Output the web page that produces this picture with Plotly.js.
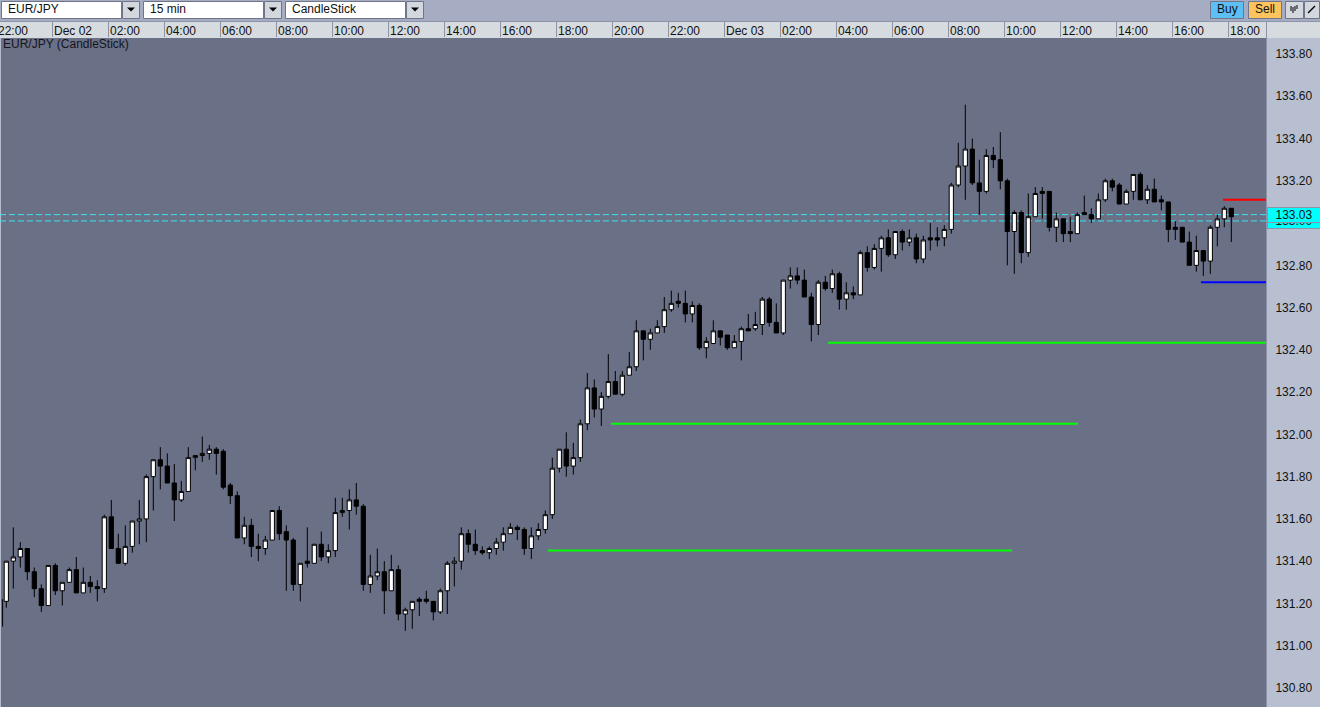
<!DOCTYPE html>
<html>
<head>
<meta charset="utf-8">
<script src="https://cdn.plot.ly/plotly-3.0.1.min.js"></script>
<style>html,body{margin:0;padding:0;background:#a6acc2;overflow:hidden}#chart{width:1320px;height:707px}</style>
</head>
<body>
<div id="chart"></div>
<script>
var opens = [131.21,131.40,131.42,131.46,131.35,131.27,131.19,131.38,131.26,131.30,131.36,131.25,131.30,131.28,131.27,131.61,131.46,131.39,131.47,131.59,131.60,131.80,131.88,131.85,131.77,131.69,131.73,131.89,131.90,131.91,131.93,
131.92,131.76,131.71,131.51,131.57,131.47,131.46,131.50,131.64,131.54,131.50,131.29,131.40,131.39,131.48,131.42,131.45,131.63,131.64,131.69,131.66,131.29,131.33,131.35,131.26,131.36,131.15,131.17,131.22,131.22,131.21,
131.16,131.26,131.39,131.40,131.53,131.48,131.45,131.44,131.46,131.49,131.53,131.56,131.55,131.46,131.52,131.55,131.62,131.84,131.93,131.85,131.89,132.05,132.22,132.12,
132.18,132.25,132.19,132.28,132.32,132.49,132.45,132.48,132.51,132.59,132.63,132.62,132.57,132.61,132.41,132.43,132.49,132.47,132.41,132.44,132.50,132.50,132.52,132.64,132.53,132.48,132.73,132.75,
132.73,132.65,132.52,132.72,132.69,132.76,132.64,132.67,132.66,132.86,132.79,132.88,132.93,132.85,132.96,132.91,132.93,132.83,132.93,132.93,132.93,
132.97,133.18,133.27,133.35,133.19,133.15,133.32,133.30,133.20,132.96,133.05,132.86,133.03,133.15,133.15,132.98,133.02,132.96,132.95,133.05,133.04,133.02,
133.11,133.20,133.18,133.09,133.15,133.23,133.11,133.16,133.11,133.10,132.98,132.98,132.91,132.80,132.87,132.82,132.98,133.02,133.07];
var highs = [131.40,131.56,131.49,131.46,131.37,131.29,131.38,131.39,131.30,131.37,131.42,131.37,131.33,131.31,131.62,131.69,131.53,131.57,131.59,131.69,131.81,131.88,131.94,131.91,131.86,131.78,131.94,131.90,131.99,131.95,131.94,
131.93,131.77,131.73,131.61,131.60,131.53,131.52,131.64,131.66,131.57,131.51,131.39,131.56,131.48,131.54,131.48,131.70,131.70,131.74,131.77,131.67,131.43,131.46,131.40,131.43,131.38,131.18,131.21,131.23,131.26,131.21,
131.27,131.40,131.42,131.56,131.55,131.55,131.47,131.47,131.51,131.56,131.58,131.57,131.56,131.56,131.58,131.64,131.89,131.93,132.01,131.96,132.07,132.29,132.26,132.20,
132.38,132.30,132.30,132.39,132.54,132.49,132.50,132.54,132.65,132.68,132.67,132.68,132.63,132.62,132.46,132.54,132.49,132.47,132.47,132.51,132.57,132.58,132.65,132.65,132.62,132.73,132.79,132.79,
132.78,132.67,132.73,132.75,132.78,132.77,132.72,132.70,132.87,132.89,132.90,132.94,132.97,132.96,132.97,132.97,132.95,132.94,133.00,132.98,132.99,
133.19,133.38,133.56,133.40,133.30,133.35,133.36,133.43,133.21,133.06,133.06,133.14,133.17,133.17,133.15,133.05,133.02,133.03,133.05,133.13,133.07,133.14,
133.21,133.21,133.19,133.16,133.23,133.24,133.18,133.21,133.13,133.10,133.01,132.98,132.96,132.94,132.87,132.99,133.04,133.08,133.07];
var lows = [131.18,131.27,131.37,131.31,131.23,131.16,131.19,131.24,131.19,131.30,131.25,131.25,131.25,131.21,131.25,131.46,131.39,131.38,131.44,131.48,131.49,131.64,131.74,131.77,131.59,131.68,131.73,131.83,131.87,131.88,131.81,
131.74,131.67,131.51,131.48,131.42,131.40,131.43,131.50,131.50,131.26,131.26,131.21,131.37,131.39,131.40,131.39,131.42,131.61,131.55,131.62,131.26,131.25,131.31,131.15,131.26,131.12,131.07,131.08,131.14,131.20,131.12,
131.15,131.15,131.28,131.36,131.44,131.43,131.43,131.41,131.43,131.45,131.53,131.50,131.43,131.41,131.50,131.53,131.60,131.82,131.80,131.81,131.87,132.02,132.08,132.04,
132.17,132.19,132.18,132.28,132.30,132.35,132.40,132.48,132.48,132.58,132.60,132.53,132.53,132.40,132.36,132.43,132.42,132.40,132.41,132.35,132.49,132.49,132.47,132.51,132.48,132.47,132.69,132.71,
132.65,132.44,132.47,132.68,132.67,132.59,132.59,132.64,132.66,132.77,132.78,132.77,132.84,132.83,132.87,132.89,132.81,132.81,132.87,132.89,132.89,
132.95,133.17,133.11,133.18,133.04,133.14,133.26,133.16,132.80,132.76,132.81,132.84,133.03,133.02,132.96,132.91,132.91,132.91,132.95,133.04,133.00,133.02,
133.10,133.15,133.09,133.09,133.11,133.11,133.09,133.10,133.06,132.91,132.92,132.91,132.80,132.77,132.75,132.76,132.89,132.98,132.91];
var closes = [131.40,131.42,131.46,131.35,131.27,131.19,131.38,131.26,131.30,131.36,131.25,131.30,131.28,131.27,131.61,131.46,131.39,131.47,131.59,131.60,131.80,131.88,131.85,131.77,131.69,131.73,131.89,131.90,131.91,131.93,131.91,
131.75,131.71,131.51,131.57,131.47,131.46,131.50,131.64,131.53,131.50,131.29,131.39,131.39,131.48,131.42,131.45,131.63,131.64,131.69,131.66,131.29,131.33,131.35,131.26,131.36,131.15,131.17,131.21,131.21,131.21,131.16,
131.26,131.39,131.40,131.53,131.48,131.45,131.44,131.46,131.49,131.53,131.56,131.55,131.46,131.52,131.55,131.62,131.84,131.93,131.85,131.89,132.05,132.22,132.12,132.18,
132.25,132.19,132.28,132.32,132.49,132.45,132.48,132.51,132.59,132.62,132.62,132.57,132.61,132.41,132.44,132.49,132.46,132.41,132.44,132.50,132.49,132.52,132.64,132.53,132.48,132.73,132.75,132.73,
132.65,132.52,132.72,132.69,132.76,132.64,132.67,132.66,132.86,132.79,132.88,132.93,132.85,132.96,132.91,132.93,132.83,132.92,132.92,132.92,132.97,
133.18,133.27,133.35,133.19,133.15,133.32,133.30,133.20,132.96,133.05,132.86,133.03,133.14,133.14,132.98,133.02,132.95,132.95,133.04,133.04,133.02,133.11,
133.20,133.17,133.09,133.15,133.23,133.11,133.16,133.10,133.10,132.97,132.97,132.91,132.80,132.87,132.82,132.98,133.02,133.07,133.03];

var clippedBarHigh = 131.22, clippedBarLow = 131.09;
var priceTicks = [130.80,131.00,131.20,131.40,131.60,131.80,132.00,132.20,132.40,132.60,132.80,133.00,133.20,133.40,133.60,133.80];
var timeLabels = ['22:00','Dec 02','02:00','04:00','06:00','08:00','10:00','12:00','14:00','16:00','18:00','20:00','22:00','Dec 03','02:00','04:00','06:00','08:00','10:00','12:00','14:00','16:00','18:00'];
var supportLevels = [131.45,132.05,132.434];
var supportStart = [77.39,86.39,117.4];
var supportEnd = [143.67,153.1,179.96];
var redLevel = 133.11, redStart = 173.8;
var blueLevel = 132.72, blueStart = 170.67;
var bidAsk = [133.04,133.01];
var tagLabels = ['133.03','133.00'];
var instrument = 'EUR/JPY', timeframe = '15 min', chartType = 'CandleStick';

var W = 1320, H = 707, plotR = 1266, plotT = 38;
var BAR0 = 6.3, BARW = 7;
function fx(px){return px/plotR;}
function fy(py){return 1-(py-plotT)/(H-plotT);}
function pxToBar(px){return (px-BAR0)/BARW;}
var xIdx = closes.map(function(_,i){return i;});
var BG='#6a7086', STRIP='#b8bfd0', AXIS='#d6dbdf', PANEL='#a6acc2', TXT='#111111', BTN='#d3d7de';
var FONT='"Liberation Sans", Arial, sans-serif';

var shapes=[], annotations=[];
function rect(x0,y0,x1,y1,fill,line,layer){shapes.push({type:'rect',xref:'paper',yref:'paper',x0:fx(x0),x1:fx(x1),y0:fy(y0),y1:fy(y1),fillcolor:fill,line:{color:line||fill,width:line?1:0},layer:layer||'below'});}
function seg(x0,y0,x1,y1,c,w,layer){shapes.push({type:'line',xref:'paper',yref:'paper',x0:fx(x0),x1:fx(x1),y0:fy(y0),y1:fy(y1),line:{color:c,width:w||1},layer:layer||'below'});}
function tri(cx,cy){shapes.push({type:'path',xref:'paper',yref:'paper',path:'M '+fx(cx-4)+' '+fy(cy-2)+' L '+fx(cx+4)+' '+fy(cy-2)+' L '+fx(cx)+' '+fy(cy+2)+' Z',fillcolor:'#000',line:{width:0},layer:'below'});}
function label(t,x,y,anchor,color){annotations.push({text:t,xref:'paper',yref:'paper',x:fx(x),y:fy(y),xanchor:anchor||'left',yanchor:'middle',showarrow:false,font:{family:FONT,size:12,color:color||TXT}});}

// axis strips
rect(0,21,W,38,AXIS);
rect(plotR,38,W,H,STRIP);
seg(plotR+0.5,21,plotR+0.5,H,'#8d93a8',1);
seg(0,21.5,W,21.5,'#8d93a8',1);
seg(0.5,38,0.5,H,'#b6bccb',1);
timeLabels.forEach(function(t,i){ if(i>0){var s=52+56*(i-1); seg(s+0.5,22,s+0.5,37,'#8d93a8',1);} });

// toolbar selects
[[1,121,139,instrument],[143,263,281,timeframe],[285,405,423,chartType]].forEach(function(b){
  rect(b[0]+0.5,1.5,b[1]+0.5,18.5,'#ffffff','#70758a');
  rect(b[1]+1.5,1.5,b[2]+0.5,18.5,BTN,'#70758a');
  tri((b[1]+b[2])/2+1,9.5);
  label(b[3],b[0]+5,9.5);
});
// buttons
rect(1210.5,1.5,1243.5,18.5,'#5cc0f6','#70758a');
rect(1248.5,1.5,1281.5,18.5,'#fdc45e','#70758a');
rect(1285.5,1.5,1303.5,18.5,BTN,'#70758a');
rect(1304.5,1.5,1319.5,18.5,BTN,'#70758a');
label('Buy',1227,9.5,'center');
label('Sell',1265,9.5,'center');
[[1291,6,11],[1293,7,13],[1295,6,11],[1297,5,9]].forEach(function(g){seg(g[0],g[1],g[0],g[2],'#000',1);});
seg(1308,13,1315,6,'#000',1.5);

// bid/ask dashed lines sit under the candles
bidAsk.forEach(function(p){
  shapes.push({type:'line',xref:'x',yref:'y',x0:pxToBar(0),x1:pxToBar(plotR),y0:p,y1:p,line:{color:'#35e6ee',width:1,dash:'6px,3px'},layer:'below'});
});

// price tags: second one is partly covered by the first
[[1,221.5],[0,215.3]].forEach(function(a){
  annotations.push({text:tagLabels[a[0]],xref:'paper',yref:'paper',x:fx(1293.5),y:fy(a[1]),xanchor:'center',yanchor:'middle',showarrow:false,width:52,height:14,borderpad:0,bgcolor:'#00ffff',bordercolor:'#8d93a8',borderwidth:1,font:{family:FONT,size:12,color:TXT}});
});

var traces=[{
  type:'candlestick',x:xIdx,open:opens,high:highs,low:lows,close:closes,
  increasing:{line:{color:'#000',width:1},fillcolor:'#ffffff'},
  decreasing:{line:{color:'#000',width:1},fillcolor:'#000000'},
  whiskerwidth:0,hoverinfo:'skip',showlegend:false
},{
  type:'scatter',mode:'lines',x:[pxToBar(2.6),pxToBar(2.6)],y:[clippedBarHigh,clippedBarLow],line:{color:'#000',width:1},hoverinfo:'skip',showlegend:false
}];
supportLevels.forEach(function(p,i){
  traces.push({type:'scatter',mode:'lines',x:[supportStart[i],supportEnd[i]],y:[p,p],line:{color:'#00ff00',width:2},hoverinfo:'skip',showlegend:false});
});
traces.push({type:'scatter',mode:'lines',x:[redStart,supportEnd[2]],y:[redLevel,redLevel],line:{color:'#ff0000',width:2},hoverinfo:'skip',showlegend:false});
traces.push({type:'scatter',mode:'lines',x:[blueStart,supportEnd[2]],y:[blueLevel,blueLevel],line:{color:'#0000ff',width:2},hoverinfo:'skip',showlegend:false});

var tickX = timeLabels.map(function(t,i){
  var sep = 52+56*(i-1);
  return pxToBar(sep+2+(t.length>5?19:15));
});

var layout={
  width:W,height:H,
  margin:{l:0,r:W-plotR,t:plotT,b:0,pad:0},
  paper_bgcolor:PANEL,plot_bgcolor:BG,
  showlegend:false,boxgap:0.4,boxgroupgap:0,
  title:{text:'EUR/JPY (CandleStick)',xref:'container',x:3/W,xanchor:'left',yref:'container',y:1-44/H,yanchor:'middle',font:{family:FONT,size:12,color:'#14151f'},pad:{t:0,b:0,l:0,r:0}},
  xaxis:{type:'linear',side:'top',range:[pxToBar(0),pxToBar(plotR)],tickmode:'array',tickvals:tickX,ticktext:timeLabels,
    ticks:'',ticklen:0,showgrid:false,zeroline:false,showline:false,automargin:false,fixedrange:true,ticklabeloverflow:'allow',
    tickfont:{family:FONT,size:12,color:TXT},rangeslider:{visible:false}},
  yaxis:{side:'right',range:[130.71,133.8757],tickmode:'array',tickvals:priceTicks,tickformat:'.2f',
    ticks:'outside',ticklen:6,tickcolor:'rgba(0,0,0,0)',showgrid:false,zeroline:false,showline:false,automargin:false,fixedrange:true,
    tickfont:{family:FONT,size:12,color:TXT}},
  shapes:shapes,annotations:annotations,hovermode:false
};
Plotly.newPlot('chart',traces,layout,{displayModeBar:false,staticPlot:true});
</script>
</body>
</html>
